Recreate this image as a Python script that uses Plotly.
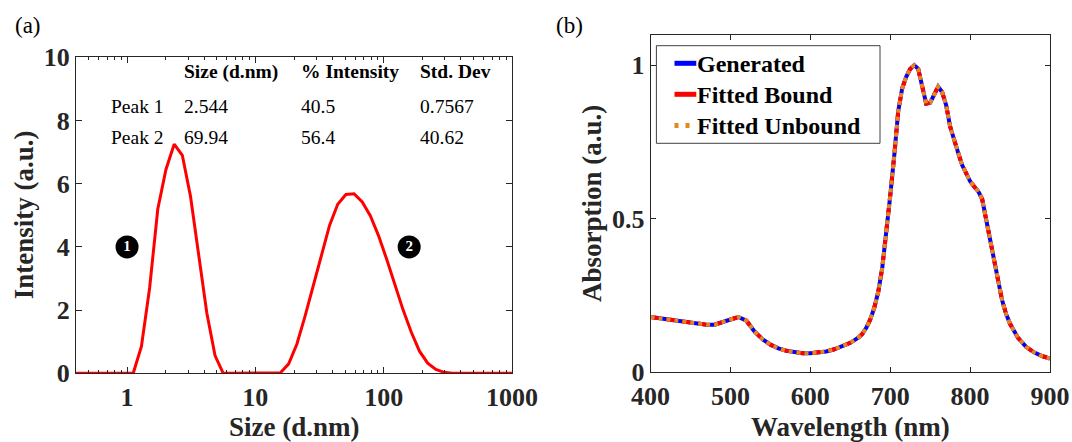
import plotly.graph_objects as go

# ---------------- data: panel (a) DLS size distribution ----------------
size_nm = [0.4, 0.4632, 0.5365, 0.6213, 0.7195, 0.8332, 0.9649, 1.117, 1.294, 1.499,
           1.736, 2.010, 2.328, 2.696, 3.122, 3.615, 4.187, 4.849, 5.615, 6.503,
           7.531, 8.721, 10.10, 11.70, 13.54, 15.69, 18.17, 21.04, 24.36, 28.21,
           32.67, 37.84, 43.82, 50.75, 58.77, 68.06, 78.82, 91.28, 105.7, 122.4,
           141.8, 164.2, 190.1, 220.2, 255.0, 295.3, 342.0, 396.1, 458.7, 531.2,
           615.1, 712.4, 825.0, 955.4, 1106]
intensity = [0, 0, 0, 0, 0, 0, 0, 0, 0.85, 2.7,
             5.2, 6.45, 7.25, 6.9, 5.6, 3.7, 1.9, 0.56, 0, 0,
             0, 0, 0, 0, 0, 0.02, 0.3, 0.92, 1.8, 2.75,
             3.7, 4.68, 5.35, 5.66, 5.68, 5.42, 4.98, 4.35, 3.6, 2.78,
             2.0, 1.3, 0.7, 0.32, 0.12, 0.03, 0, 0, 0, 0,
             0, 0, 0, 0, 0]

peak_labels = ["1", "2"]
peak_label_x = [1.0, 158]
peak_label_y = [4.0, 4.0]

table_header = ["Size (d.nm)", "% Intensity", "Std. Dev"]
table_rows = ["Peak 1", "Peak 2"]
table_size = ["2.544", "69.94"]
table_intensity = ["40.5", "56.4"]
table_std = ["0.7567", "40.62"]

x_ticks_a = [1, 10, 100, 1000]
x_minor_a = [0.5, 0.6, 0.7, 0.8, 0.9, 2, 3, 4, 5, 6, 7, 8, 9,
             20, 30, 40, 50, 60, 70, 80, 90, 200, 300, 400, 500, 600, 700, 800, 900]
y_ticks_a = [0, 2, 4, 6, 8, 10]

# ---------------- data: panel (b) absorption spectra ----------------
wavelength = [400, 410, 420, 430, 440, 450, 460, 470, 480, 490,
              500, 510, 520, 530, 540, 550, 560, 570, 580, 590,
              600, 610, 620, 630, 640, 650, 660, 665, 670, 675,
              680, 685, 690, 695, 700, 705, 710, 715, 720, 725,
              730, 735, 740, 745, 750, 755, 760, 765, 770, 775,
              780, 785, 790, 795, 800, 805, 810, 815, 820, 825,
              830, 835, 840, 845, 850, 860, 870, 880, 890, 900]
absorption = [0.180, 0.176, 0.172, 0.168, 0.164, 0.161, 0.158, 0.155, 0.155, 0.162,
              0.172, 0.180, 0.168, 0.133, 0.108, 0.090, 0.078, 0.070, 0.065, 0.062,
              0.062, 0.064, 0.068, 0.075, 0.084, 0.096, 0.113, 0.125, 0.145, 0.172,
              0.210, 0.262, 0.340, 0.445, 0.575, 0.705, 0.850, 0.925, 0.962, 0.988,
              1.000, 0.988, 0.925, 0.875, 0.878, 0.905, 0.930, 0.912, 0.870, 0.800,
              0.752, 0.715, 0.675, 0.645, 0.622, 0.605, 0.590, 0.565, 0.495, 0.430,
              0.365, 0.300, 0.235, 0.190, 0.158, 0.112, 0.083, 0.065, 0.053, 0.045]
series_names = ["Generated", "Fitted Bound", "Fitted Unbound"]
series_colors = ["#0000FF", "#FF0000", "#E5871A"]
series_dash = ["solid", "8px,8px", "4px,4px"]
legend_dash = ["solid", "solid", "4px,7px"]
x_ticks_b = [400, 500, 600, 700, 800, 900]
y_ticks_b = [0, 0.5, 1]
y_ticktext_b = ["0", "0.5", "1"]

# ---------------- figure ----------------
W, H = 1072, 442
FONT = "Liberation Serif"
AX = "#262626"


def px_x(p):
    return p / W


def px_y(p):
    return (H - p) / H


fig = go.Figure()

fig.add_trace(go.Scatter(x=size_nm, y=intensity, mode="lines",
                         line=dict(color="#FF0000", width=3),
                         showlegend=False, xaxis="x", yaxis="y"))
fig.add_trace(go.Scatter(x=peak_label_x, y=peak_label_y, mode="markers+text",
                         text=peak_labels, textposition="middle center",
                         textfont=dict(family=FONT, size=15, color="white", weight="bold"),
                         marker=dict(size=23, color="black"),
                         showlegend=False, xaxis="x", yaxis="y"))

for name, col, dash in zip(series_names, series_colors, series_dash):
    fig.add_trace(go.Scatter(x=wavelength, y=absorption, mode="lines", name=name,
                             line=dict(color=col, width=4, dash=dash),
                             showlegend=False, xaxis="x2", yaxis="y2"))

tickfont = dict(family=FONT, size=26, color=AX, weight="bold")
common = dict(showline=True, linecolor=AX, linewidth=1, mirror="ticks",
              ticks="inside", tickcolor=AX, tickwidth=1, showgrid=False,
              zeroline=False, tickfont=tickfont, automargin=False)

fig.update_layout(
    width=W, height=H, autosize=False,
    margin=dict(l=0, r=0, t=0, b=0),
    paper_bgcolor="white", plot_bgcolor="white",
    showlegend=False,
    xaxis=dict(domain=[px_x(76), px_x(512)], type="log",
               range=[-0.39794, 3], tickvals=x_ticks_a,
               ticktext=[str(v) for v in x_ticks_a], ticklen=6,
               minor=dict(ticks="inside", ticklen=3, tickcolor=AX, tickvals=x_minor_a,
                          showgrid=False),
               anchor="y", **common),
    yaxis=dict(domain=[px_y(373.3), px_y(57.3)], range=[0, 10],
               tickvals=y_ticks_a, ticklen=6, anchor="x", **common),
    xaxis2=dict(domain=[px_x(650.6), px_x(1050)], range=[400, 900],
                tickvals=x_ticks_b, ticklen=5, anchor="y2", **common),
    yaxis2=dict(domain=[px_y(372.3), px_y(34.5)], range=[0, 1.1],
                tickvals=y_ticks_b, ticktext=y_ticktext_b, ticklen=5,
                anchor="x2", **common),
)

# legend drawn as a box with line samples and labels
shapes = [dict(type="rect", xref="paper", yref="paper",
               x0=px_x(656.4), x1=px_x(880), y0=px_y(143.3), y1=px_y(45.7),
               line=dict(color="#404040", width=1), fillcolor="white", layer="above")]
ann = []
legend_rows = [63.3, 94.3, 125.5]
for ry, name, col, dash in zip(legend_rows, series_names, series_colors, legend_dash):
    shapes.append(dict(type="line", xref="paper", yref="paper",
                       x0=px_x(674.5), x1=px_x(696.3), y0=px_y(ry), y1=px_y(ry),
                       line=dict(color=col, width=5, dash=dash), layer="above"))
    ann.append(dict(text=name, x=px_x(694.5), y=px_y(ry + 1), xanchor="left",
                    font=dict(family=FONT, size=24, color="black", weight="bold")))
fig.update_layout(shapes=shapes)

title_font = dict(family=FONT, size=27, color=AX, weight="bold")
ann.append(dict(text="Size (d.nm)", x=px_x(294), y=px_y(427), font=title_font))
ann.append(dict(text="Wavelength (nm)", x=px_x(850.3), y=px_y(427), font=title_font))
ann.append(dict(text="Intensity (a.u.)", x=px_x(24), y=px_y(215.3), textangle=-90, font=title_font))
ann.append(dict(text="Absorption (a.u.)", x=px_x(592.6), y=px_y(203.4), textangle=-90, font=title_font))
ann.append(dict(text="(a)", x=px_x(28.4), y=px_y(25.8), font=dict(family=FONT, size=23, color="black")))
ann.append(dict(text="(b)", x=px_x(569.7), y=px_y(25.5), font=dict(family=FONT, size=23, color="black")))

col_x = [181.5, 299.0, 418.0]
row_y = [71.7, 106.7, 137.0]
tfont_b = dict(family=FONT, size=19.5, color="black", weight="bold")
tfont = dict(family=FONT, size=19.5, color="black")
for cx, h in zip(col_x, table_header):
    ann.append(dict(text=h, x=px_x(cx), y=px_y(row_y[0]), xanchor="left", font=tfont_b))
for r in range(2):
    yy = px_y(row_y[r + 1])
    ann.append(dict(text=table_rows[r], x=px_x(108.5), y=yy, xanchor="left", font=tfont))
    for cx, col in zip(col_x, [table_size, table_intensity, table_std]):
        ann.append(dict(text=col[r], x=px_x(cx), y=yy, xanchor="left", font=tfont))

for a in ann:
    a.setdefault("xanchor", "center")
    a.update(xref="paper", yref="paper", yanchor="middle", showarrow=False)
fig.update_layout(annotations=ann)

fig.write_html("out.html", config={"displayModeBar": False},
               post_script="document.body.style.margin='0';document.body.style.overflow='hidden';")
